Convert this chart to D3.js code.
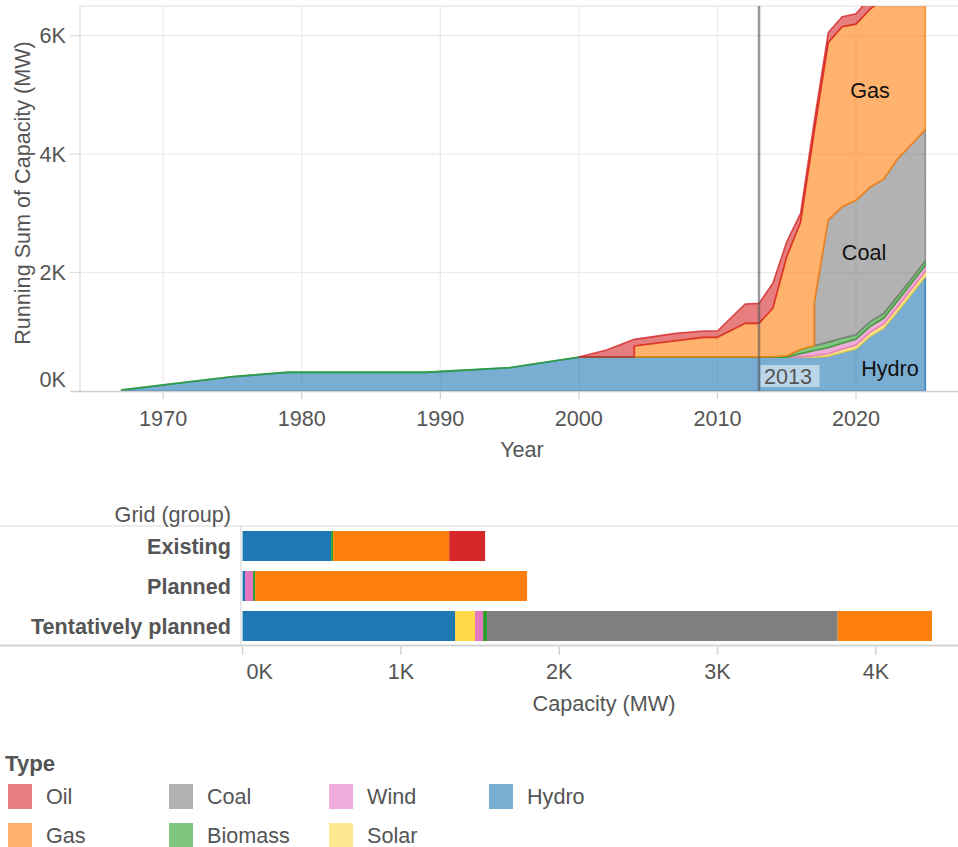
<!DOCTYPE html>
<html><head><meta charset="utf-8">
<script src="https://cdn.jsdelivr.net/npm/d3@7"></script>
<style>
body{margin:0;background:#fff}
svg{display:block}
text{font-family:"Liberation Sans",Arial,Helvetica,sans-serif}
</style>
</head><body>
<svg id="c" width="958" height="847"></svg>
<script>
// ---------- data: running sum of capacity (MW) by year and type ----------
const years   = [1967,1970,1975,1979,1989,1995,2000,2002,2004,2007,2009,2010,2012,2013,2014,2015,2016,2017,2018,2019,2020,2021,2022,2023,2024,2025];
const hydro   = [15,100,240,315,315,393,570,570,570,570,570,570,570,570,570,570,570,570,585,650,709,917,1058,1339,1632,1929];
const solar   = [null,null,null,null,null,null,null,null,null,null,null,null,null,null,null,0,5,25,45,55,65,70,70,80,85,90];
const wind    = [null,null,null,null,null,null,null,null,null,null,null,null,null,null,null,0,55,90,100,100,100,100,100,100,100,100];
const biomass = [5,5,5,5,5,5,5,5,5,5,5,5,5,5,8,20,70,80,95,85,75,80,80,80,75,75];
const coal    = [null,null,null,null,null,null,null,null,null,null,null,null,null,null,null,null,null,742,2061,2221,2270,2270,2270,2320,2270,2215];
const gas     = [null,null,null,null,null,null,null,null,185,274,331,331,567,567,820,1677,2150,2897,2999,3038,2975,3005,3050,3050,3050,3050];
const oil     = [null,null,null,null,null,null,0,117,112,124,107,107,326,338,420,253,150,170,167,169,174,200,227,227,227,227];

const yTicks = [0,2000,4000,6000];
const xTicks = [1970,1980,1990,2000,2010,2020];
const refYear = 2013;

// ---------- data: capacity by grid group ----------
const groups     = ["Existing","Planned","Tentatively planned"];
const barHydro   = [559,15,1342];
const barSolar   = [0,0,126];
const barWind    = [0,51,51];
const barBiomass = [13,13,25];
const barCoal    = [0,0,2215];
const barGas     = [733,1718,596];
const barOil     = [227,0,0];
const barTicks   = [0,1000,2000,3000,4000];

const stackOrder  = ["Hydro","Solar","Wind","Biomass","Coal","Gas","Oil"];
const legendOrder = ["Oil","Gas","Coal","Biomass","Wind","Solar","Hydro"];
const colors = {Oil:"#d62728",Gas:"#ff7f0e",Coal:"#7f7f7f",Biomass:"#2ca02c",Wind:"#e377c2",Solar:"#ffd94a",Hydro:"#1f77b4"};

const svg = d3.select("#c");
const TXT = "#555";
const FS = 21.6;
const kfmt = d => (d/1000) + "K";

// ================= TOP: stacked area =================
const x = d3.scaleLinear().domain([1964, 2027.36]).range([80, 958]);
const y = d3.scaleLinear().domain([0, 6500]).range([391, 6]);

const topG = svg.append("g");
topG.selectAll(".vg").data(xTicks).join("line")
  .attr("x1", d => x(d)).attr("x2", d => x(d)).attr("y1", 6).attr("y2", 391)
  .attr("stroke", "#ebebeb").attr("stroke-width", 1.2);
topG.selectAll(".hg").data(yTicks.filter(d => d > 0)).join("line")
  .attr("x1", 80).attr("x2", 958).attr("y1", d => y(d)).attr("y2", d => y(d))
  .attr("stroke", "#ebebeb").attr("stroke-width", 1.2);
topG.append("line").attr("x1",80).attr("x2",958).attr("y1",6).attr("y2",6).attr("stroke","#dedede").attr("stroke-width",1.2);
topG.append("line").attr("x1",80).attr("x2",80).attr("y1",6).attr("y2",391).attr("stroke","#d9d9d9").attr("stroke-width",1.2);

svg.append("defs").append("clipPath").attr("id","pane")
  .append("rect").attr("x",80).attr("y",6).attr("width",878).attr("height",386);

const seriesMap = {Hydro:hydro,Solar:solar,Wind:wind,Biomass:biomass,Coal:coal,Gas:gas,Oil:oil};
const layers = stackOrder.map(k => seriesMap[k]);
const bottoms = layers.map(() => []), tops = layers.map(() => []);
years.forEach((yr, j) => {
  let acc = 0;
  layers.forEach((L, i) => { bottoms[i][j] = acc; acc += (L[j] == null ? 0 : L[j]); tops[i][j] = acc; });
});
const areaGen = d3.area().x(d => x(d.x)).y0(d => y(d.y0)).y1(d => y(d.y1));
const ag = topG.append("g").attr("clip-path","url(#pane)");
layers.forEach((L, i) => {
  const pts = [];
  years.forEach((yr, j) => {
    if (L[j] == null) return;
    if (j > 0 && L[j-1] != null) {
      let delta = 0;
      for (let k = i - 1; k >= 0; k--) {
        const a = layers[k][j-1], b = layers[k][j];
        if (b != null && a == null) delta += b;
        else if (b != null && a != null) break;
      }
      if (delta > 0) pts.push({x: yr, y0: bottoms[i][j] - delta, y1: tops[i][j]});
    }
    pts.push({x: yr, y0: bottoms[i][j], y1: tops[i][j]});
  });
  const c = colors[stackOrder[i]];
  ag.append("path").attr("d", areaGen(pts))
    .attr("fill", c).attr("fill-opacity", 0.6)
    .attr("stroke", c).attr("stroke-opacity", 0.8).attr("stroke-width", 1.6)
    .attr("stroke-linejoin","round");
});

topG.append("line").attr("x1",70).attr("x2",958).attr("y1",391.5).attr("y2",391.5).attr("stroke","#cfcfcf").attr("stroke-width",1.5);
topG.selectAll(".yt").data(yTicks.filter(d=>d>0)).join("line")
  .attr("x1",70).attr("x2",80).attr("y1",d=>y(d)).attr("y2",d=>y(d)).attr("stroke","#dcdcdc").attr("stroke-width",1.2);
topG.selectAll(".xt").data(xTicks).join("line")
  .attr("x1",d=>x(d)).attr("x2",d=>x(d)).attr("y1",392).attr("y2",399).attr("stroke","#cfcfcf").attr("stroke-width",1.2);
topG.selectAll(".ytl").data(yTicks).join("text")
  .attr("x",66).attr("y",d => d === 0 ? y(d) - 12 : y(d)).attr("dy","0.35em")
  .attr("text-anchor","end").attr("font-size",FS).attr("fill",TXT).text(kfmt);
topG.selectAll(".xtl").data(xTicks).join("text")
  .attr("x",d=>x(d)).attr("y",418).attr("dy","0.35em")
  .attr("text-anchor","middle").attr("font-size",FS).attr("fill",TXT).text(d=>d);
topG.append("text").attr("x",522).attr("y",449).attr("dy","0.35em").attr("text-anchor","middle")
  .attr("font-size",FS).attr("fill",TXT).text("Year");
topG.append("text").attr("transform","translate(22,193) rotate(-90)").attr("dy","0.35em").attr("text-anchor","middle")
  .attr("font-size",FS).attr("fill",TXT).text("Running Sum of Capacity (MW)");

topG.append("line").attr("x1",x(refYear)).attr("x2",x(refYear)).attr("y1",6).attr("y2",391)
  .attr("stroke","#555").attr("stroke-opacity",0.6).attr("stroke-width",2.5);
topG.append("rect").attr("x",x(refYear)+1.5).attr("y",365).attr("width",59).attr("height",22)
  .attr("fill","#fff").attr("fill-opacity",0.5);
topG.append("text").attr("x",x(refYear)+5).attr("y",376.5).attr("dy","0.35em")
  .attr("font-size",FS).attr("fill",TXT).text(refYear);

const areaLabels = [["Gas",870,90],["Coal",864,252],["Hydro",890,368]];
topG.selectAll(".al").data(areaLabels).join("text")
  .attr("x",d=>d[1]).attr("y",d=>d[2]).attr("dy","0.35em").attr("text-anchor","middle")
  .attr("font-size",FS).attr("fill","#111").text(d=>d[0]);

// ================= BOTTOM: stacked bars =================
const bx = d3.scaleLinear().domain([0, 4519]).range([242.6, 958]);
const by = d3.scaleBand().domain(groups).range([526, 646]).paddingInner(0.25).paddingOuter(0.125);
const barSeries = {Hydro:barHydro,Solar:barSolar,Wind:barWind,Biomass:barBiomass,Coal:barCoal,Gas:barGas,Oil:barOil};
const rows = groups.map((g, i) => { const r = {group: g}; stackOrder.forEach(k => r[k] = barSeries[k][i]); return r; });
const stacked = d3.stack().keys(stackOrder)(rows);

const bot = svg.append("g");
bot.append("line").attr("x1",0).attr("x2",958).attr("y1",526).attr("y2",526).attr("stroke","#d9d9d9").attr("stroke-width",1.2);
bot.append("line").attr("x1",241).attr("x2",241).attr("y1",526).attr("y2",646).attr("stroke","#d9d9d9").attr("stroke-width",1.2);
bot.selectAll(".ser").data(stacked).join("g").attr("fill", d => colors[d.key])
  .selectAll("rect").data(d => d.filter(v => v[1] > v[0])).join("rect")
  .attr("x", d => bx(d[0])).attr("width", d => bx(d[1]) - bx(d[0]))
  .attr("y", d => by(d.data.group)).attr("height", by.bandwidth());
bot.append("line").attr("x1",0).attr("x2",958).attr("y1",645.5).attr("y2",645.5).attr("stroke","#d4d4d4").attr("stroke-width",2);
bot.selectAll(".bt").data(barTicks).join("line")
  .attr("x1",d=>bx(d)).attr("x2",d=>bx(d)).attr("y1",647).attr("y2",655).attr("stroke","#d4d4d4").attr("stroke-width",1.5);
bot.selectAll(".btl").data(barTicks).join("text")
  .attr("x",d => d === 0 ? bx(d) + 4 : bx(d)).attr("y",671).attr("dy","0.35em")
  .attr("text-anchor",d => d === 0 ? "start" : "middle").attr("font-size",FS).attr("fill",TXT).text(kfmt);
bot.append("text").attr("x",604).attr("y",703).attr("dy","0.35em").attr("text-anchor","middle")
  .attr("font-size",FS).attr("fill",TXT).text("Capacity (MW)");
bot.append("text").attr("x",231).attr("y",514).attr("dy","0.35em").attr("text-anchor","end")
  .attr("font-size",FS).attr("fill",TXT).text("Grid (group)");
bot.selectAll(".gl").data(groups).join("text")
  .attr("x",231).attr("y",d => by(d) + by.bandwidth()/2).attr("dy","0.35em").attr("text-anchor","end")
  .attr("font-size",FS).attr("font-weight","bold").attr("fill",TXT).text(d=>d);

// ================= legend =================
const leg = svg.append("g");
leg.append("text").attr("x",5).attr("y",763).attr("dy","0.35em").attr("font-size",FS+0.6)
  .attr("font-weight","bold").attr("fill",TXT).text("Type");
const colX = [8,169,329,489], rowY = [784,823];
const li = leg.selectAll(".li").data(legendOrder).join("g")
  .attr("transform",(d,i) => `translate(${colX[Math.floor(i/2)]},${rowY[i%2]})`);
li.append("rect").attr("width",24).attr("height",25).attr("fill",d=>colors[d]).attr("fill-opacity",0.6);
li.append("text").attr("x",38).attr("y",12.5).attr("dy","0.35em").attr("font-size",FS).attr("fill",TXT).text(d=>d);
</script>
</body></html>
